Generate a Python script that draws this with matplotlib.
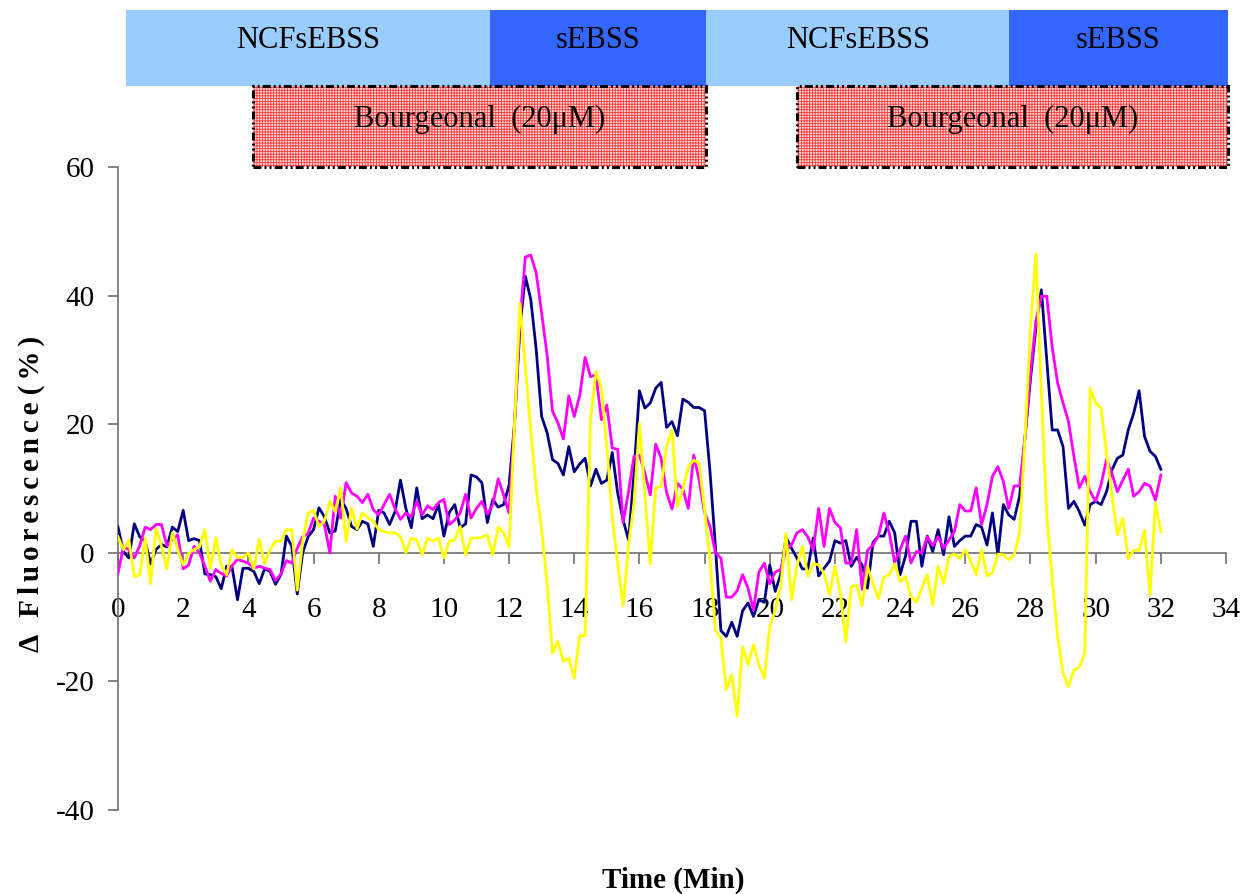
import numpy as np
import matplotlib
matplotlib.use("Agg")
import matplotlib.pyplot as plt
import matplotlib.transforms as mtransforms
from matplotlib.patches import Rectangle

plt.rcParams["font.family"] = ["Liberation Serif", "DejaVu Serif"]
plt.rcParams["axes.unicode_minus"] = False
plt.rcParams["hatch.linewidth"] = 0.6

# one reading every 10 s
sample_interval_min = 1 / 6

# Δ fluorescence (%) of three cells
cell_navy = [
    4.0, 0.2, -0.8, 4.5, 2.5, 1.8, -1.7, 0.5, 1.3, 0.9,
    4.0, 3.3, 6.6, 1.9, 2.2, 1.9, -3.3, -3.4, -3.7, -5.6,
    -2.1, -2.2, -7.3, -2.4, -2.4, -2.9, -4.8, -2.5, -2.9, -4.9,
    -3.4, 2.6, 1.0, -6.4, 0.0, 2.5, 3.6, 7.0, 5.6, 3.1,
    3.4, 8.3, 6.9, 4.1, 3.6, 4.9, 4.5, 1.0, 6.6, 6.2,
    4.4, 6.4, 11.3, 6.9, 3.9, 10.1, 5.3, 5.9, 5.3, 7.5,
    2.6, 6.3, 7.5, 3.9, 4.5, 12.1, 11.8, 10.9, 4.7, 8.3,
    7.1, 7.5, 10.5, 20.0, 35.0, 43.0, 39.4, 31.6, 21.2, 18.7,
    14.5, 13.9, 12.1, 16.5, 12.6, 13.8, 14.7, 10.4, 13.0, 10.8,
    11.3, 15.6, 9.3, 5.1, 2.0, 12.4, 25.2, 22.5, 23.3, 25.6,
    26.5, 19.5, 20.4, 18.2, 23.9, 23.4, 22.6, 22.6, 22.1, 12.6,
    0.9, -12.1, -13.0, -10.8, -13.0, -9.0, -7.8, -9.9, -7.3, -7.7,
    -1.9, -6.0, -3.4, 2.4, 0.7, -0.8, -2.5, -2.5, 2.3, -3.6,
    -2.4, -1.3, 1.9, 1.5, 1.9, -2.1, -0.7, -1.9, -5.5, 1.6,
    2.6, 2.6, 4.9, 3.1, -3.4, -0.5, 4.9, 4.9, -2.1, 2.6,
    0.2, 3.6, -0.3, 5.6, 1.0, 1.9, 2.6, 2.6, 4.4, 4.0,
    1.2, 6.2, -0.3, 7.5, 5.9, 5.2, 8.8, 18.0, 27.0, 35.0,
    40.9, 30.0, 19.1, 19.1, 16.5, 6.9, 8.0, 6.4, 4.3, 7.5,
    8.0, 7.5, 9.5, 12.9, 14.7, 15.2, 19.1, 21.7, 25.2, 18.1,
    15.8, 15.0, 13.0,
]

cell_magenta = [
    -3.2, 0.9, 0.5, -0.8, 1.1, 4.0, 3.6, 4.4, 4.4, 1.1,
    2.0, 2.8, -2.5, -1.9, 1.0, 0.0, -2.1, -4.4, -2.6, -3.2,
    -3.6, -2.0, -1.0, -1.3, -1.6, -2.4, -2.1, -2.4, -2.6, -4.3,
    -3.3, -1.2, -1.6, 0.7, 2.5, 3.0, 5.4, 4.9, 4.4, 0.0,
    8.8, 5.4, 10.9, 9.3, 8.8, 7.8, 9.1, 6.7, 5.9, 7.5,
    9.1, 6.9, 5.2, 6.2, 5.6, 8.0, 5.9, 7.3, 6.7, 7.8,
    8.3, 4.4, 5.1, 6.2, 9.1, 5.4, 6.9, 8.0, 6.0, 7.5,
    11.5, 9.0, 6.2, 20.0, 36.0, 46.0, 46.3, 43.5, 37.3, 30.8,
    22.0, 20.2, 17.7, 24.4, 21.2, 24.4, 30.4, 27.4, 27.7, 20.7,
    23.0, 16.3, 16.1, 4.7, 9.5, 15.0, 15.2, 12.4, 9.0, 16.9,
    14.7, 9.4, 6.8, 10.8, 9.9, 6.9, 15.2, 11.3, 6.2, 4.1,
    0.0, -0.8, -6.9, -6.9, -5.9, -3.4, -5.5, -8.9, -3.0, -1.6,
    -4.8, -3.0, -2.6, 0.4, 1.2, 3.1, 3.6, 2.5, 0.4, 6.9,
    1.0, 6.9, 4.7, 3.9, -1.6, -1.6, 3.6, -5.7, 0.4, 1.2,
    2.6, 6.2, 3.1, -1.5, 0.5, 2.6, -1.6, 0.2, 0.0, 2.5,
    1.1, 2.5, 0.7, 2.0, 3.3, 7.5, 6.5, 6.5, 10.1, 4.4,
    7.5, 11.9, 13.4, 11.1, 6.9, 10.4, 10.4, 18.0, 28.0, 36.0,
    39.9, 39.9, 32.0, 26.4, 23.3, 20.4, 15.0, 10.1, 11.9, 9.5,
    8.0, 10.6, 14.5, 12.4, 9.5, 11.3, 13.0, 8.8, 9.5, 10.8,
    10.4, 8.2, 12.1,
]

cell_yellow = [
    2.5, 0.5, 2.0, -3.7, -3.4, 2.3, -4.8, 3.8, 1.0, -2.5,
    3.1, 0.5, -1.9, -0.1, 0.5, 0.9, 3.6, -2.4, 2.3, -1.9,
    -3.4, 0.5, -0.8, -0.7, 0.0, -2.5, 2.1, -1.7, 0.5, 1.8,
    1.8, 3.6, 3.6, -5.8, 1.8, 6.2, 6.6, 4.1, 4.9, 8.0,
    6.4, 10.1, 1.8, 7.0, 3.7, 6.2, 5.5, 4.9, 3.6, 3.3,
    3.1, 3.1, 2.5, 0.0, 2.3, 2.0, -0.3, 2.3, 1.8, 2.3,
    -0.8, 1.8, 2.0, 4.1, -0.3, 2.3, 2.3, 2.4, 2.8, -0.3,
    4.0, 3.1, 0.9, 20.0, 38.8, 29.0, 19.0, 10.0, 3.6, -4.7,
    -15.6, -13.8, -16.9, -16.4, -19.5, -12.9, -12.9, 20.7, 28.2, 25.6,
    16.5, 5.6, -1.7, -8.3, 1.2, 7.7, 20.1, 9.3, -1.7, 10.1,
    10.3, 16.5, 19.1, 7.2, 9.9, 13.4, 14.4, 13.9, 6.7, -1.1,
    -12.0, -13.3, -21.3, -19.0, -25.4, -14.6, -17.4, -14.3, -17.4, -19.5,
    -11.5, -8.9, -5.2, 3.0, -7.3, -2.0, 1.0, -3.6, -1.6, -1.9,
    -3.2, -6.5, -2.1, -6.3, -13.9, -5.3, -5.0, -8.2, -2.1, -4.8,
    -7.1, -3.8, -3.4, -1.7, -4.5, -3.7, -6.8, -7.7, -5.5, -3.4,
    -8.2, -2.1, -4.8, -0.6, -0.2, -0.9, 0.5, -1.3, -3.4, 0.5,
    -3.6, -3.1, -0.2, -0.3, -1.1, -0.3, 3.1, 18.0, 35.0, 46.5,
    25.0, 6.0, -4.0, -13.0, -18.7, -20.8, -18.2, -17.8, -15.6, 25.6,
    23.3, 22.5, 15.5, 9.0, 2.8, 5.4, -0.9, 0.4, 0.4, 3.5,
    -6.6, 7.7, 3.3,
]

# perfusion protocol (min)
solution_periods = [
    (0.25, 11.4, "NCFsEBSS"),
    (11.4, 18.05, "sEBSS"),
    (18.05, 27.35, "NCFsEBSS"),
    (27.35, 34.05, "sEBSS"),
]
odorant_periods = [
    (4.15, 18.05, "Bourgeonal  (20\u03bcM)"),
    (20.85, 34.05, "Bourgeonal  (20\u03bcM)"),
]

x_ticks = list(range(0, 35, 2))
y_ticks = [-40, -20, 0, 20, 40, 60]

W, H = 1258, 894
fig = plt.figure(figsize=(W / 100, H / 100), dpi=100)
ax = fig.add_axes([118 / W, 84 / H, 1108 / W, 643 / H])

time = np.arange(len(cell_navy)) * sample_interval_min
ax.plot(time, cell_navy, color="#000080", lw=2.0, zorder=3)
ax.plot(time, cell_magenta, color="#FF00FF", lw=2.0, zorder=3)
ax.plot(time, cell_yellow, color="#FFFF00", lw=2.0, zorder=3)

ax.set_xlim(0, 34)
ax.set_ylim(-40, 60)
ax.spines["top"].set_visible(False)
ax.spines["right"].set_visible(False)
ax.spines["bottom"].set_position(("data", 0))
axis_grey = "#707070"
for side in ("left", "bottom"):
    ax.spines[side].set_color(axis_grey)
    ax.spines[side].set_linewidth(1.2)
    ax.spines[side].set_zorder(2)

ax.set_xticks(x_ticks)
ax.set_yticks(y_ticks)
ax.tick_params(axis="x", direction="out", length=8, width=1.2, color=axis_grey,
               pad=24, labelsize=21)
ax.tick_params(axis="y", direction="out", length=7, width=1.2, color=axis_grey,
               pad=10, labelsize=21)

# protocol bars above the plot: x in minutes, y in figure fraction
band = mtransforms.blended_transform_factory(ax.transData, fig.transFigure)
row1_top, row1_bot = 1 - 10 / H, 1 - 86 / H
row2_top, row2_bot = 1 - 86 / H, 1 - 167 / H

for start, end, name in solution_periods:
    face = "#3366FF" if name == "sEBSS" else "#99CCFF"
    ax.add_patch(Rectangle((start, row1_bot), end - start, row1_top - row1_bot,
                           transform=band, facecolor=face, edgecolor="none",
                           clip_on=False, zorder=1))
    ax.text((start + end) / 2, 1 - 48 / H, name, transform=band,
            ha="center", va="baseline", fontsize=22, clip_on=False)

for start, end, name in odorant_periods:
    ax.add_patch(Rectangle((start, row2_bot), end - start, row2_top - row2_bot,
                           transform=band, facecolor="#ffdcdc", edgecolor="#ff3a3a",
                           hatch="++++++", linewidth=0, clip_on=False, zorder=1))
    ax.add_patch(Rectangle((start, row2_bot), end - start, row2_top - row2_bot,
                           transform=band, fill=False, edgecolor="black",
                           linewidth=2.2,
                           linestyle=(0, (2.6, 1.0, 0.65, 1.0, 0.65, 1.0)),
                           clip_on=False, zorder=1.5))
    ax.text((start + end) / 2, 1 - 127 / H, name, transform=band,
            ha="center", va="baseline", fontsize=22, clip_on=False, zorder=2)

fig.text(673 / W, 1 - 888 / H, "Time (Min)", ha="center", va="baseline",
         fontsize=21, fontweight="bold")

tracked = "\u2006".join("Fluorescence")
fig.text(31 / W, 1 - 494 / H, "\u0394\u2006\u2006 " + tracked + " (\u2006%\u2006)",
         rotation=90, ha="center", va="center", fontsize=21, fontweight="bold")

fig.savefig("out.png", dpi=100)
